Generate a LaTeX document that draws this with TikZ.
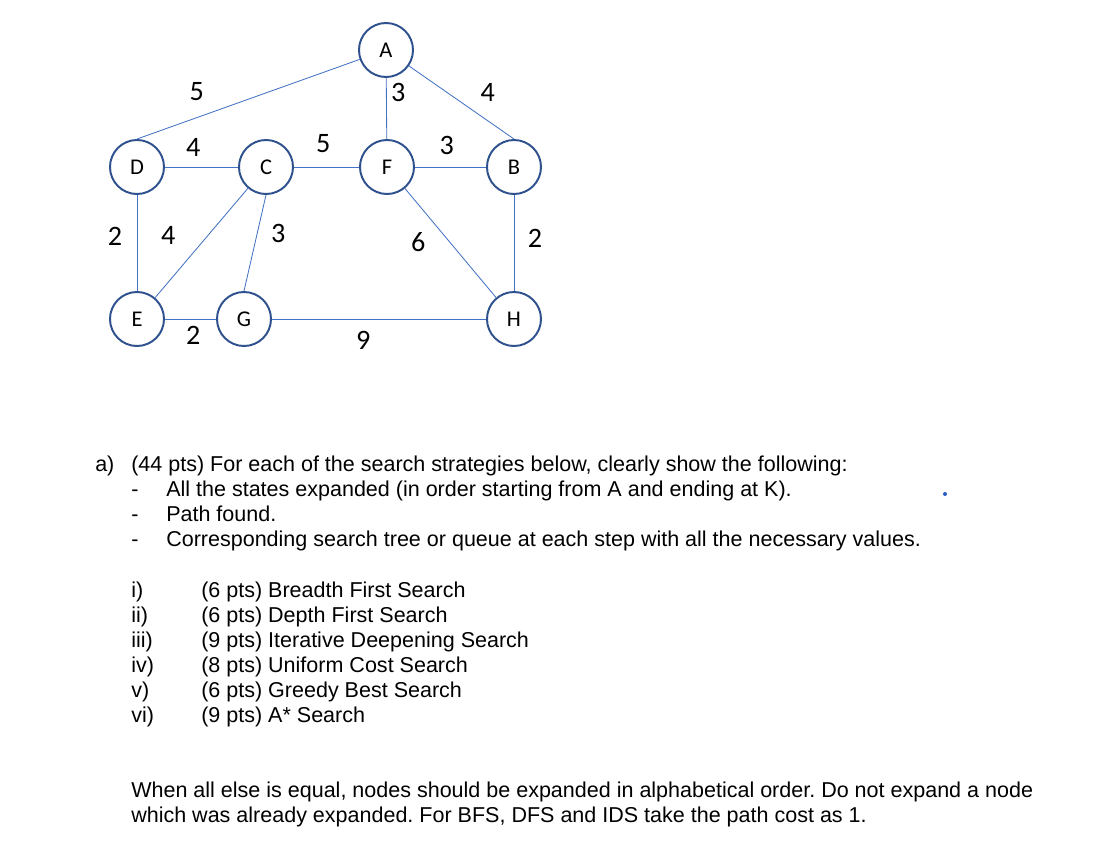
\documentclass[tikz,border=0pt]{standalone}
\usepackage{fontspec}
\setmainfont{Liberation Sans}
\newfontfamily\calfont{Carlito}
\usepackage{tikz}
\usetikzlibrary{positioning}
\definecolor{ringblue}{RGB}{47,82,143}
\definecolor{linkblue}{RGB}{68,114,196}
\definecolor{dotblue}{RGB}{40,90,200}
\frenchspacing

\begin{document}
\begin{tikzpicture}[x=0.025cm, y=-0.025cm,
    vtx/.style={circle, draw=ringblue, line width=1.4pt, minimum size=1.35cm, inner sep=0pt,
      font=\calfont\fontsize{16}{18}\selectfont},
    link/.style={linkblue, line width=0.6pt},
    wt/.style={inner sep=0pt, font=\calfont\fontsize{20}{24}\selectfont},
    txt/.style={anchor=base west, inner sep=0pt, font=\fontsize{15.3}{18}\selectfont}]
  \useasboundingbox (0,0) rectangle (1120,868);

  % the graph
  \node[vtx] (A) at (386,50) {A};
  \node[vtx] (D) at (137,167) {D};
  \node[vtx] (C) at (266,167) {C};
  \node[vtx] (F) at (387,167) {F};
  \node[vtx] (B) at (514,167) {B};
  \node[vtx] (E) at (137,319) {E};
  \node[vtx] (G) at (244,319) {G};
  \node[vtx] (H) at (514,319) {H};

  \draw[link] (A) -- (D.north);
  \draw[link] (A) -- (B.north);
  \draw[link] (C.south) -- (G.north);
  \foreach \u/\v in {A/F, D/C, C/F, F/B, D/E, C/E, F/H, B/H, E/G, G/H}
    \draw[link] (\u) -- (\v);

  % edge costs
  \foreach \n/\px/\py/\w in {ad/196.7/92/5, af/398.3/92.7/3, ab/487.7/92.7/4,
      dc/193.3/147.3/4, cf/323.3/144/5, fb/446.7/145.7/3,
      de/115/236/2, ce/168.3/235/4, cg/278.3/233.7/3, fh/418.3/241.7/6,
      bh/535/238.3/2, eg/193.3/335/2, gh/363.3/340/9}
    \node[wt] (w\n) at (\px,\py) {\w};

  % question text
  \node[txt] (qa) at (95,471) {a)};
  \node[txt] (q0) at (131,471) {(44 pts) For each of the search strategies below, clearly show the following:};
  \node[txt] (d1) at (131,496) {-};
  \node[txt] (q1) at (166,496) {All the states expanded (in order starting from A and ending at K).};
  \node[txt] (d2) at (131,521) {-};
  \node[txt] (q2) at (166,521) {Path found.};
  \node[txt] (d3) at (131,546) {-};
  \node[txt] (q3) at (166,546) {Corresponding search tree or queue at each step with all the necessary values.};
  \node[circle, fill=dotblue, inner sep=0pt, minimum size=0.1cm] (dot) at (945,494) {};

  \foreach \k/\r/\s in {0/i)/(6 pts) Breadth First Search, 1/ii)/(6 pts) Depth First Search,
      2/iii)/(9 pts) Iterative Deepening Search, 3/iv)/(8 pts) Uniform Cost Search,
      4/v)/(6 pts) Greedy Best Search, 5/vi)/(9 pts) A* Search}{
    \node[txt] (r\k) at (131,597+25*\k) {\r};
    \node[txt] (s\k) at (201,597+25*\k) {\s};}

  \node[txt] (n1) at (131,797) {When all else is equal, nodes should be expanded in alphabetical order. Do not expand a node};
  \node[txt] (n2) at (131,822) {which was already expanded. For BFS, DFS and IDS take the path cost as 1.};
\end{tikzpicture}
\end{document}
